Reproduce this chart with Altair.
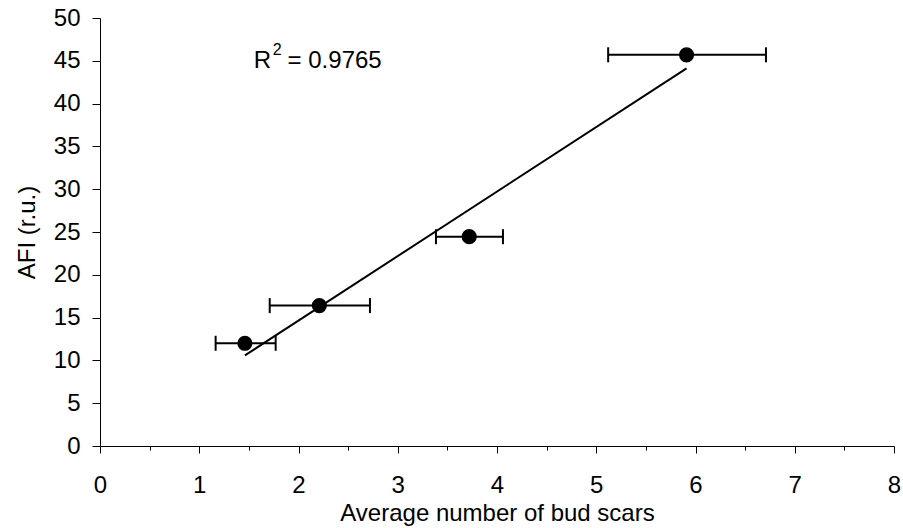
import altair as alt
import pandas as pd

# Data
bud_scars = [1.46, 2.21, 3.72, 5.91]
afi = [12.0, 16.4, 24.45, 45.7]
bud_lo = [1.165, 1.71, 3.385, 5.12]
bud_hi = [1.77, 2.72, 4.06, 6.71]

x_tick_values = [0, 0.5, 1, 1.5, 2, 2.5, 3, 3.5, 4, 4.5, 5, 5.5, 6, 6.5, 7, 7.5, 8]
y_tick_values = [0, 2.5, 5, 7.5, 10, 12.5, 15, 17.5, 20, 22.5, 25, 27.5, 30, 32.5,
                 35, 37.5, 40, 42.5, 45, 47.5, 50]

# R² annotation, split into base text / superscript / value
r2_main_text = ["R", "= 0.9765"]
r2_main_x = [1.55, 1.89]
r2_main_y = [44.2, 44.2]
r2_sup_text = ["2"]
r2_sup_x = [1.74]
r2_sup_y = [45.7]

FONT = "Liberation Sans"
FS = 24

df = pd.DataFrame({"x": bud_scars, "y": afi, "lo": bud_lo, "hi": bud_hi})
ann_main = pd.DataFrame({"t": r2_main_text, "x": r2_main_x, "y": r2_main_y})
ann_sup = pd.DataFrame({"t": r2_sup_text, "x": r2_sup_x, "y": r2_sup_y})

x_scale = alt.Scale(domain=[0, 8], nice=False, zero=False)
y_scale = alt.Scale(domain=[0, 50], nice=False, zero=False)

x_axis = alt.Axis(
    values=x_tick_values,
    labelExpr="datum.value % 1 === 0 ? format(datum.value, 'd') : ''",
    tickSize={"condition": {"test": "datum.value % 1 === 0", "value": 7}, "value": 4},
    tickColor="black", tickWidth=1,
    domainColor="black", domainWidth=1,
    labelFont=FONT, labelFontSize=FS, labelColor="black", labelPadding=20,
    labelFlush=False, labelOverlap=False,
    title="Average number of bud scars",
    titleFont=FONT, titleFontSize=FS, titleFontWeight="normal", titleColor="black",
    titleBaseline="alphabetic", titleY=74,
    grid=False,
)
y_axis = alt.Axis(
    values=y_tick_values,
    labelExpr="datum.value % 5 === 0 ? format(datum.value, 'd') : ''",
    tickSize={"condition": {"test": "datum.value % 5 === 0", "value": 8}, "value": 4},
    tickColor="black", tickWidth=1,
    domainColor="black", domainWidth=1,
    labelFont=FONT, labelFontSize=FS, labelColor="black", labelPadding=12,
    labelFlush=False, labelOverlap=False,
    title="AFI (r.u.)",
    titleFont=FONT, titleFontSize=FS, titleFontWeight="normal", titleColor="black",
    titleBaseline="alphabetic", titleX=-66, titleAngle=-90,
    grid=False,
)

base = alt.Chart(df)

bars = base.mark_rule(color="black", strokeWidth=2, opacity=1).encode(
    x=alt.X("lo:Q", scale=x_scale, axis=x_axis),
    x2="hi:Q",
    y=alt.Y("y:Q", scale=y_scale, axis=y_axis),
)
cap_lo = base.mark_tick(orient="vertical", color="black", size=15, thickness=2, opacity=1).encode(
    x=alt.X("lo:Q", scale=x_scale), y=alt.Y("y:Q", scale=y_scale)
)
cap_hi = base.mark_tick(orient="vertical", color="black", size=15, thickness=2, opacity=1).encode(
    x=alt.X("hi:Q", scale=x_scale), y=alt.Y("y:Q", scale=y_scale)
)
trend = base.transform_regression("x", "y").mark_line(color="black", strokeWidth=2).encode(
    x=alt.X("x:Q", scale=x_scale), y=alt.Y("y:Q", scale=y_scale)
)
points = base.mark_point(filled=True, shape="circle", size=230, color="black", opacity=1).encode(
    x=alt.X("x:Q", scale=x_scale), y=alt.Y("y:Q", scale=y_scale)
)
label_main = alt.Chart(ann_main).mark_text(
    font=FONT, fontSize=FS, align="left", baseline="alphabetic", color="black"
).encode(
    x=alt.X("x:Q", scale=x_scale), y=alt.Y("y:Q", scale=y_scale), text="t:N"
)
label_sup = alt.Chart(ann_sup).mark_text(
    font=FONT, fontSize=16, align="left", baseline="alphabetic", color="black"
).encode(
    x=alt.X("x:Q", scale=x_scale), y=alt.Y("y:Q", scale=y_scale), text="t:N"
)

chart = alt.layer(bars, cap_lo, cap_hi, trend, points, label_main, label_sup).properties(
    width=794, height=428,
    autosize=alt.AutoSizeParams(type="none"),
    padding={"left": 100, "top": 18, "right": 9, "bottom": 82},
    background="white",
).configure_view(stroke=None)

chart.save("out.html", embed_options={"renderer": "svg", "actions": False})
